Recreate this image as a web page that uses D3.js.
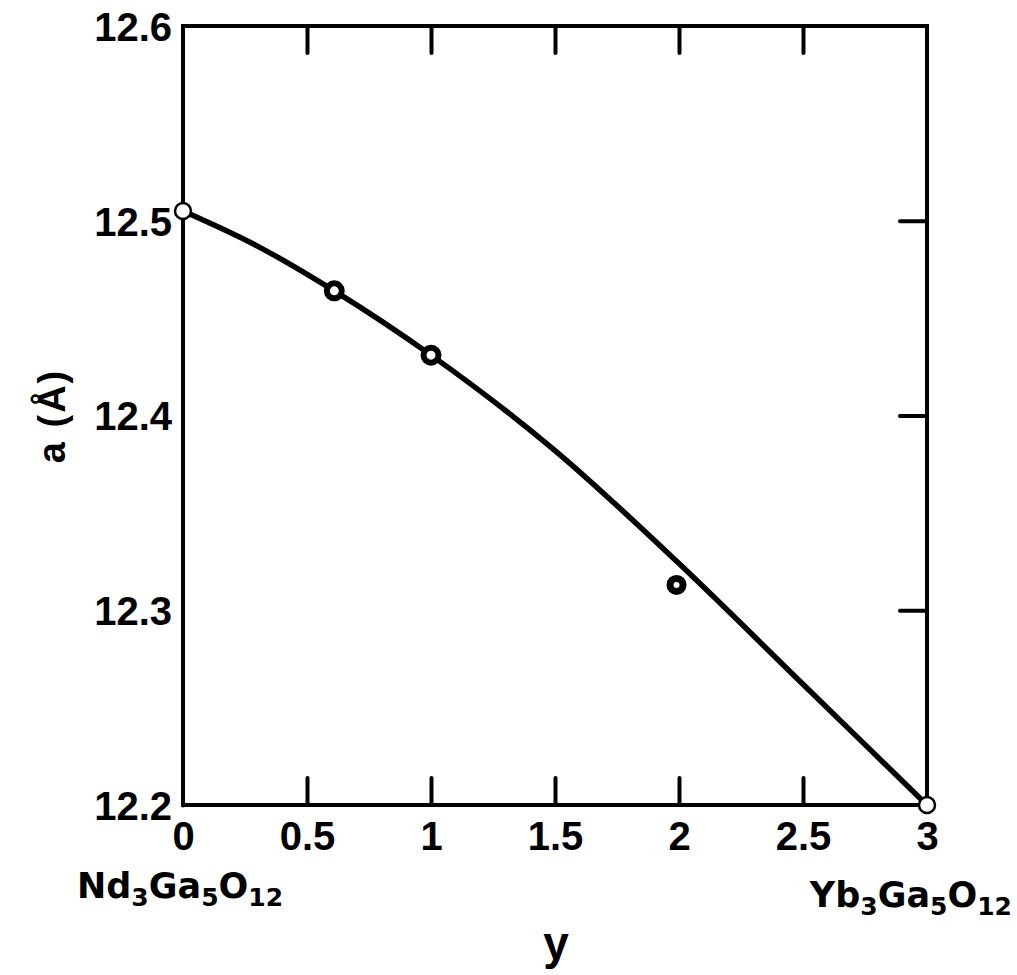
<!DOCTYPE html>
<html>
<head>
<meta charset="utf-8">
<script src="https://cdn.jsdelivr.net/npm/d3@7"></script>
<style>
  html, body { margin: 0; padding: 0; background: #fff; }
  svg { display: block; }
</style>
</head>
<body>
<script>
// ---- data ----
const curveX = [0, 0.3, 0.61, 1.0, 1.5, 2.0, 2.5, 3.0];
const curveY = [12.505, 12.487, 12.464, 12.431, 12.382, 12.324, 12.262, 12.2];

const endPointsX = [0, 3];
const endPointsY = [12.505, 12.2];

const ringPointsX = [0.61, 1.0];
const ringPointsY = [12.464, 12.431];

const solidPointsX = [1.99];
const solidPointsY = [12.313];

const xTicks = [0, 0.5, 1, 1.5, 2, 2.5, 3];
const xTickLabels = ["0", "0.5", "1", "1.5", "2", "2.5", "3"];
const xInnerTicks = [0.5, 1, 1.5, 2, 2.5];
const yTicks = [12.2, 12.3, 12.4, 12.5, 12.6];
const yTickLabels = ["12.2", "12.3", "12.4", "12.5", "12.6"];
const yInnerTicks = [12.3, 12.4, 12.5];

// ---- layout ----
const W = 1017, H = 975;
const L = 183, R = 927, T = 26, B = 805;

const svg = d3.select("body").append("svg").attr("width", W).attr("height", H);

const x = d3.scaleLinear().domain([0, 3]).range([L, R]);
const y = d3.scaleLinear().domain([12.2, 12.6]).range([B, T]);

const tickFont = "'Liberation Sans', Arial, sans-serif";
const formulaFont = "'DejaVu Sans', sans-serif";

function styleAxis(g) {
  g.select(".domain").remove();
  g.selectAll(".tick line").attr("stroke", "#000").attr("stroke-width", 4).attr("stroke-linecap", "round");
  g.selectAll(".tick text").attr("fill", "#000").attr("font-family", tickFont)
    .attr("font-weight", "bold").attr("font-size", 40);
}

// bottom axis (inward ticks + labels)
svg.append("g").attr("transform", `translate(0,${B})`)
  .call(d3.axisBottom(x).tickValues(xTicks).tickSize(0).tickPadding(17)
    .tickFormat((d, i) => xTickLabels[i]))
  .call(styleAxis);
svg.append("g").attr("transform", `translate(0,${B})`)
  .call(d3.axisBottom(x).tickValues(xInnerTicks).tickSize(-27).tickFormat(""))
  .call(styleAxis);

// top axis inward ticks
svg.append("g").attr("transform", `translate(0,${T})`)
  .call(d3.axisTop(x).tickValues(xInnerTicks).tickSize(-27).tickFormat(""))
  .call(styleAxis);

// left axis labels
svg.append("g").attr("transform", `translate(${L},0)`)
  .call(d3.axisLeft(y).tickValues(yTicks).tickSize(0).tickPadding(11)
    .tickFormat((d, i) => yTickLabels[i]))
  .call(styleAxis)
  .selectAll(".tick text").attr("dy", "0.36em");

// right axis inward ticks
svg.append("g").attr("transform", `translate(${R},0)`)
  .call(d3.axisRight(y).tickValues(yInnerTicks).tickSize(-27).tickFormat(""))
  .call(styleAxis);

// frame
svg.append("rect").attr("x", L).attr("y", T).attr("width", R - L).attr("height", B - T)
  .attr("fill", "none").attr("stroke", "#000").attr("stroke-width", 4);

// curve
const line = d3.line().x(d => x(d[0])).y(d => y(d[1])).curve(d3.curveMonotoneX);
svg.append("path").datum(curveX.map((v, i) => [v, curveY[i]]))
  .attr("d", line).attr("fill", "none").attr("stroke", "#000")
  .attr("stroke-width", 5.5).attr("stroke-linecap", "round");

// points
svg.selectAll(".endpt").data(endPointsX.map((v, i) => [v, endPointsY[i]])).enter()
  .append("circle").attr("cx", d => x(d[0])).attr("cy", d => y(d[1])).attr("r", 8)
  .attr("fill", "#fff").attr("stroke", "#000").attr("stroke-width", 2.5);

svg.selectAll(".ringpt").data(ringPointsX.map((v, i) => [v, ringPointsY[i]])).enter()
  .append("circle").attr("cx", d => x(d[0])).attr("cy", d => y(d[1])).attr("r", 7.5)
  .attr("fill", "#fff").attr("stroke", "#000").attr("stroke-width", 6);

svg.selectAll(".solidpt").data(solidPointsX.map((v, i) => [v, solidPointsY[i]])).enter()
  .append("circle").attr("cx", d => x(d[0])).attr("cy", d => y(d[1])).attr("r", 6.5)
  .attr("fill", "#fff").attr("stroke", "#000").attr("stroke-width", 7);

// formula labels
function formula(xp, yp, parts, anchor) {
  const t = svg.append("text").attr("x", xp).attr("y", yp)
    .attr("font-family", formulaFont).attr("font-weight", "bold")
    .attr("font-size", 35).attr("fill", "#000").attr("text-anchor", anchor);
  parts.forEach(p => {
    t.append("tspan").text(p[0])
      .attr("font-size", p[1] ? 25 : 35)
      .attr("dy", p[1] ? 8 : (p[2] ? -8 : 0));
  });
}
formula(77, 898, [["Nd"], ["3", true], ["Ga", false, true], ["5", true], ["O", false, true], ["12", true]], "start");
formula(1012, 907, [["Yb"], ["3", true], ["Ga", false, true], ["5", true], ["O", false, true], ["12", true]], "end");

// axis titles
svg.append("text").attr("x", 556).attr("y", 959).attr("text-anchor", "middle")
  .attr("font-family", tickFont).attr("font-weight", "bold").attr("font-size", 46)
  .text("y");

svg.append("text").attr("transform", "translate(65,416) rotate(-90)")
  .attr("text-anchor", "middle").attr("font-family", tickFont).attr("font-weight", "bold")
  .attr("font-size", 38).attr("letter-spacing", 2).text("a (Å)");
</script>
</body>
</html>
